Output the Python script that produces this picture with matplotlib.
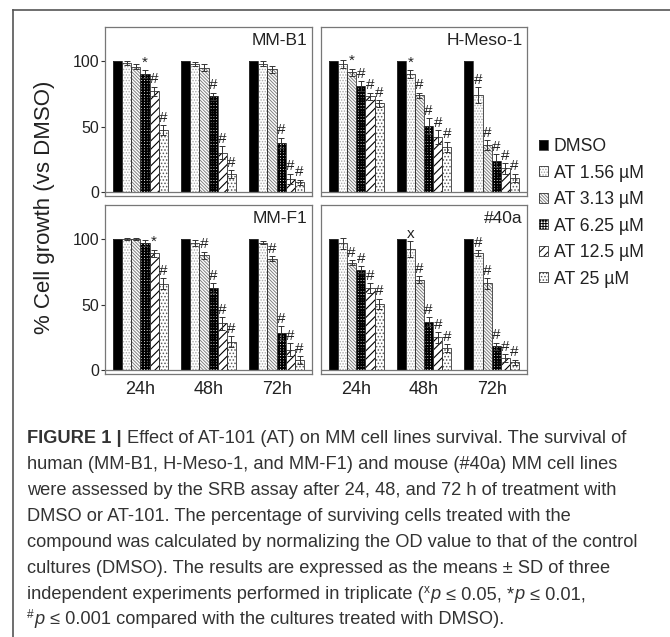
import matplotlib
matplotlib.use('Agg')
import matplotlib.pyplot as plt
from matplotlib.patches import Patch
from matplotlib.lines import Line2D
from matplotlib.legend_handler import HandlerTuple
from matplotlib import font_manager
import numpy as np

plt.rcParams['font.family'] = ['Liberation Sans', 'DejaVu Sans']

# ---------------- data ----------------
timepoints = ['24h', '48h', '72h']
series = ['DMSO', 'AT 1.56 µM', 'AT 3.13 µM', 'AT 6.25 µM', 'AT 12.5 µM', 'AT 25 µM']
panel_names = ['MM-B1', 'H-Meso-1', 'MM-F1', '#40a']

# values per time point (rows) and series (columns)
mmb1_vals = [[100, 98.7, 95.7, 90.0, 77.0, 47.3],
             [100, 98.0, 95.0, 73.0, 30.0, 14.0],
             [100, 98.0, 93.6, 37.6, 10.0, 7.4]]
mmb1_err = [[0, 1.5, 2.0, 3.0, 3.5, 4.0],
            [0, 1.5, 2.5, 3.0, 5.0, 3.0],
            [0, 2.0, 3.0, 4.0, 4.0, 2.0]]
mmb1_sig = [['', '', '', '*', '#', '#'],
            ['', '', '', '#', '#', '#'],
            ['', '', '', '#', '#', '#']]

hmeso_vals = [[100, 98.0, 91.3, 81.0, 73.0, 67.7],
              [100, 90.0, 74.0, 50.6, 42.0, 34.6],
              [100, 74.0, 35.8, 24.0, 18.0, 11.0]]
hmeso_err = [[0, 3.0, 3.0, 3.5, 3.0, 2.5],
             [0, 3.0, 2.0, 6.0, 5.0, 4.0],
             [0, 6.0, 4.0, 5.0, 4.0, 3.0]]
hmeso_sig = [['', '', '*', '#', '#', '#'],
             ['', '*', '#', '#', '#', '#'],
             ['', '#', '#', '#', '#', '#']]

mmf1_vals = [[100, 100.0, 100.0, 97.0, 89.0, 66.0],
             [100, 97.0, 87.5, 62.5, 35.6, 21.8],
             [100, 97.2, 85.0, 28.3, 15.5, 7.9]]
mmf1_err = [[0, 0.5, 0.5, 2.0, 3.0, 4.0],
            [0, 2.0, 3.0, 4.0, 5.0, 4.0],
            [0, 1.0, 2.0, 5.0, 5.0, 3.0]]
mmf1_sig = [['', '', '', '', '*', '#'],
            ['', '', '#', '#', '#', '#'],
            ['', '', '#', '#', '#', '#']]

m40a_vals = [[100, 96.7, 82.0, 76.6, 62.5, 50.5],
             [100, 92.3, 69.0, 37.0, 25.0, 17.0],
             [100, 89.3, 66.2, 18.0, 9.0, 6.0]]
m40a_err = [[0, 4.0, 2.0, 2.5, 4.0, 4.0],
            [0, 6.0, 2.5, 3.5, 4.0, 3.0],
            [0, 2.0, 4.0, 3.0, 3.0, 2.0]]
m40a_sig = [['', '', '#', '#', '#', '#'],
            ['', 'x', '#', '#', '#', '#'],
            ['', '#', '#', '#', '#', '#']]

yticks = [0, 50, 100]
ylabel = '% Cell growth (vs DMSO)'

caption_lines = [
    [("FIGURE 1 |", 'bold'), ("Effect of AT-101 (AT) on MM cell lines survival. The survival of", 'reg')],
    [("human (MM-B1, H-Meso-1, and MM-F1) and mouse (#40a) MM cell lines", 'reg')],
    [("were assessed by the SRB assay after 24, 48, and 72 h of treatment with", 'reg')],
    [("DMSO or AT-101. The percentage of surviving cells treated with the", 'reg')],
    [("compound was calculated by normalizing the OD value to that of the control", 'reg')],
    [("cultures (DMSO). The results are expressed as the means ± SD of three", 'reg')],
    [("independent experiments performed in triplicate (", 'reg'), ("x", 'sup'), ("p", 'ital'),
     (" ≤ 0.05, *", 'reg'), ("p", 'ital'), (" ≤ 0.01,", 'reg')],
    [("#", 'sup'), ("p", 'ital'), (" ≤ 0.001 compared with the cultures treated with DMSO).", 'reg')],
]

panels = [
    (panel_names[0], mmb1_vals, mmb1_err, mmb1_sig),
    (panel_names[1], hmeso_vals, hmeso_err, hmeso_sig),
    (panel_names[2], mmf1_vals, mmf1_err, mmf1_sig),
    (panel_names[3], m40a_vals, m40a_err, m40a_sig),
]

# ---------------- styles ----------------
# (facecolor, hatch, hatchcolor, hatch linewidth)
styles = [
    ('black', None, 'black', 0.7),
    ('white', '......', '#a8a8a8', 0.7),
    ('white', '\\\\\\\\\\\\\\\\\\\\', '#808080', 0.7),
    ('white', '++++++', 'black', 1.3),
    ('white', '////', 'black', 0.8),
    ('white', '.....', '#5a5a5a', 0.7),
]

W, H = 670, 637
fig = plt.figure(figsize=(W / 100, H / 100), dpi=100)


def fx(px):
    return px / W


def fy(py):
    return 1 - py / H


boxes = [(105, 27, 312, 196), (321, 27, 527, 196), (105, 205, 312, 374), (321, 205, 527, 374)]
bw = 0.135
offs = (np.arange(6) - 2.5) * bw
gx = np.arange(3)
frame_c = '#777777'
text_c = '#222222'

for pi, (name, vals, errs, sigs) in enumerate(panels):
    x0, y0, x1, y1 = boxes[pi]
    ax = fig.add_axes([fx(x0), fy(y1), (x1 - x0) / W, (y1 - y0) / H])
    vals = np.array(vals)
    errs = np.array(errs)
    for si in range(6):
        fc, hatch, hc, hlw = styles[si]
        xs = gx + offs[si]
        plt.rcParams['hatch.linewidth'] = hlw
        ax.bar(xs, vals[:, si], bw, color=fc, hatch=hatch, edgecolor=hc, linewidth=0, zorder=2)
        ax.bar(xs, vals[:, si], bw, fill=False, edgecolor='#333333', linewidth=0.6, zorder=3)
        if si > 0:
            ax.errorbar(xs, vals[:, si], yerr=errs[:, si], fmt='none', ecolor='#333333',
                        elinewidth=0.7, capsize=2, capthick=0.7, zorder=4)
        for gi in range(3):
            s = sigs[gi][si]
            if s:
                ax.text(xs[gi], vals[gi, si] + errs[gi, si] + 0.2, s, ha='center', va='bottom',
                        fontsize=11, color=text_c, zorder=5)
    ax.axhline(0, color=frame_c, lw=0.9, zorder=6)
    ax.set_xlim(-0.52, 2.52)
    ax.set_ylim(-3, 126)
    for sp in ax.spines.values():
        sp.set_color(frame_c)
        sp.set_linewidth(0.9)
    ax.set_yticks(yticks)
    if pi % 2 == 0:
        ax.set_yticklabels([str(t) for t in yticks])
        ax.tick_params(axis='y', direction='out', length=3, width=0.8, color='#333333',
                       labelsize=11.5, pad=1, labelcolor=text_c)
    else:
        ax.tick_params(axis='y', left=False, labelleft=False)
    ax.set_xticks(gx)
    if pi >= 2:
        ax.set_xticklabels(timepoints)
        ax.tick_params(axis='x', length=0, labelsize=13, pad=5, labelcolor=text_c)
    else:
        ax.tick_params(axis='x', length=0, labelbottom=False)
    ax.text(0.98, 0.965, name, transform=ax.transAxes, ha='right', va='top',
            fontsize=12.5, color=text_c)

# legend
handles = []
for fc, hatch, hc, hlw in styles:
    plt.rcParams['hatch.linewidth'] = min(hlw, 0.8)
    handles.append((Patch(facecolor=fc, hatch=hatch, edgecolor=hc, linewidth=0),
                    Patch(fill=False, edgecolor='#333333', linewidth=0.6)))
fig.legend(handles, series, loc='upper left', bbox_to_anchor=(fx(539), fy(138)),
           frameon=False, fontsize=12.7, handlelength=0.5, handleheight=0.5,
           handletextpad=0.35, labelspacing=0.54, borderpad=0, borderaxespad=0,
           handler_map={tuple: HandlerTuple(ndivide=1)}, labelcolor=text_c)

fig.text(fx(45), fy(207), ylabel, rotation=90, ha='center', va='center', fontsize=16, color=text_c)

# outer frame
fig.add_artist(Line2D([fx(13), 1.0], [fy(10), fy(10)], color='#555555', lw=1.2))
fig.add_artist(Line2D([fx(13), fx(13)], [fy(10), 0.0], color='#555555', lw=1.2))

# caption
names = {f.name for f in font_manager.fontManager.ttflist}
cap_font = 'Liberation Sans Narrow' if 'Liberation Sans Narrow' in names else 'Liberation Sans'
cap_c = '#333333'
renderer = fig.canvas.get_renderer()


def text_width(s, **kw):
    t = fig.text(0, 0, s, **kw)
    w = t.get_window_extent(renderer).width
    t.remove()
    return w


base_kw = dict(family=[cap_font, 'DejaVu Sans'])
ref_line = caption_lines[4][0][0]
w12 = text_width(ref_line, fontsize=12, **base_kw)
cap_fs = 12 * 614 / w12


def seg_kw(style):
    kw = dict(family=[cap_font, 'DejaVu Sans'], fontsize=cap_fs, color=cap_c)
    if style == 'bold':
        kw['weight'] = 'bold'
    elif style == 'ital':
        kw['style'] = 'italic'
    elif style == 'sup':
        kw['fontsize'] = cap_fs * 0.65
    return kw


space_w = text_width('a a', **seg_kw('reg')) - text_width('aa', **seg_kw('reg'))
baselines = [443, 469, 495, 521, 547, 573, 599, 624]
for li, segs in enumerate(caption_lines):
    xpx = 27
    yb = baselines[li]
    for si, (s, style) in enumerate(segs):
        kw = seg_kw(style)
        lead = len(s) - len(s.lstrip(' '))
        trail = len(s) - len(s.rstrip(' '))
        core = s.strip(' ')
        xpx += lead * space_w
        ypx = yb - (6 if style == 'sup' else 0)
        t = fig.text(fx(xpx), fy(ypx), core, ha='left', va='baseline', **kw)
        xpx += t.get_window_extent(renderer).width + trail * space_w
        if style == 'bold':
            xpx += space_w
        elif style in ('ital', 'sup'):
            xpx += 0.5

fig.savefig('out.png', dpi=100)
